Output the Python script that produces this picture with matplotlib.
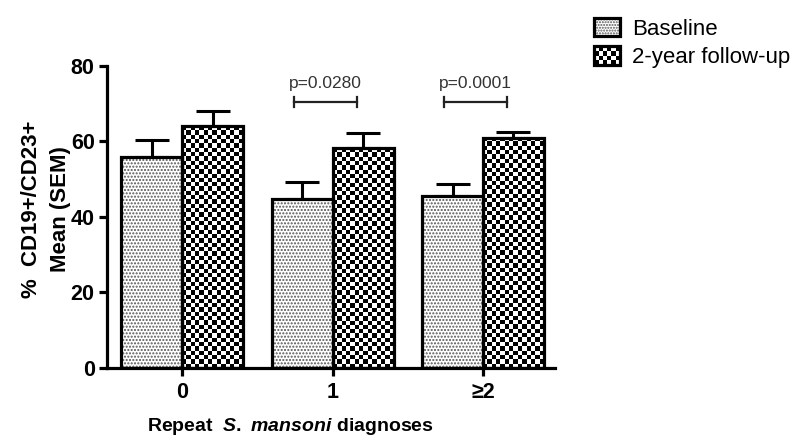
import numpy as np
from matplotlib import pyplot as plt
from matplotlib.patches import Rectangle
from matplotlib.legend_handler import HandlerBase

plt.rcParams['font.family'] = ['Liberation Sans', 'DejaVu Sans']
plt.rcParams['mathtext.fontset'] = 'custom'
plt.rcParams['mathtext.it'] = 'Liberation Sans:italic:bold'
plt.rcParams['mathtext.rm'] = 'Liberation Sans:bold'

# data
groups = ['0', '1', '\u22652']
baseline = [55.9, 44.8, 45.6]
baseline_sem = [4.5, 4.5, 3.1]
followup = [64.1, 58.2, 61.0]
followup_sem = [4.0, 4.1, 1.5]
pvalues = ['p=0.0280', 'p=0.0001']
p_groups = [1, 2]
p_height = 70.5

x = np.arange(len(groups))
w = 0.405
dotcol = '#555555'

fig = plt.figure(figsize=(8, 4.46), dpi=100)
ax = fig.add_axes([0.134, 0.175, 0.56, 0.677])

bars_b = ax.bar(x - w/2, baseline, w, color='white', edgecolor=dotcol,
                hatch='.....', linewidth=0, zorder=2)
bars_f = ax.bar(x + w/2, followup, w, color='white', linewidth=0, zorder=2)

# checkerboard fill for follow-up bars
cell = 4.35 / 150.5  # data units per checker cell in x
for b in bars_f:
    bx, by, bw, bh = b.get_x(), b.get_y(), b.get_width(), b.get_height()
    nx = int(round(bw / cell))
    ny = int(round(bh * 3.775 / 4.35))
    chk = (np.add.outer(np.arange(ny), np.arange(nx)) % 2).astype(float)
    im = ax.imshow(chk, cmap='gray', extent=[bx, bx + bw, by, by + bh],
                   interpolation='nearest', aspect='auto', zorder=2)
    im.set_clip_path(b)

# outlines
for b in list(bars_b) + list(bars_f):
    ax.add_patch(Rectangle((b.get_x(), b.get_y()), b.get_width(), b.get_height(),
                           fill=False, edgecolor='black', linewidth=2.3, zorder=3))

ax.errorbar(x - w/2, baseline, yerr=[np.zeros(3), baseline_sem], fmt='none',
            ecolor='black', elinewidth=2.2, capsize=12, capthick=2.2, zorder=1)
ax.errorbar(x + w/2, followup, yerr=[np.zeros(3), followup_sem], fmt='none',
            ecolor='black', elinewidth=2.2, capsize=12, capthick=2.2, zorder=1)

# significance brackets
for g, ptxt in zip(p_groups, pvalues):
    x0, x1 = g - 0.26, g + 0.16
    ax.plot([x0, x1], [p_height, p_height], color='#222222', lw=1.6, clip_on=False)
    ax.plot([x0, x0], [p_height - 1.4, p_height + 1.4], color='#222222', lw=1.6, clip_on=False)
    ax.plot([x1, x1], [p_height - 1.4, p_height + 1.4], color='#222222', lw=1.6, clip_on=False)
    ax.text((x0 + x1) / 2, p_height + 3.0, ptxt, ha='center', va='bottom',
            fontsize=12.5, color='#333333')

ax.set_xlim(-0.5, 2.48)
ax.set_ylim(0, 80)
ax.set_yticks([0, 20, 40, 60, 80])
ax.set_xticks(x)
ax.set_xticklabels(groups)
for s in ['top', 'right']:
    ax.spines[s].set_visible(False)
for s in ['left', 'bottom']:
    ax.spines[s].set_linewidth(2.3)
ax.tick_params(axis='both', width=2.3, length=6, labelsize=15.5, pad=3)
ax.tick_params(axis='x', pad=4)
for lab in ax.get_xticklabels() + ax.get_yticklabels():
    lab.set_fontweight('bold')

ax.set_ylabel('%  CD19+/CD23+\nMean (SEM)', fontsize=16, fontweight='bold',
              linespacing=1.5)
ax.yaxis.set_label_coords(-0.08, 0.526)
ax.set_xlabel('Repeat  $\\mathit{S.\\ mansoni}$ diagnoses', fontsize=14,
              fontweight='bold')
ax.xaxis.set_label_coords((290 - 107) / 448, -0.16)


class DotHandler(HandlerBase):
    def create_artists(self, legend, orig_handle, xd, yd, width, height, fontsize, trans):
        bg = Rectangle((-xd, -yd), width, height, facecolor='white', edgecolor=dotcol,
                       hatch='......', linewidth=0, transform=trans)
        border = Rectangle((-xd, -yd), width, height, fill=False, edgecolor='black',
                           linewidth=2.3, transform=trans)
        return [bg, border]


class CheckHandler(HandlerBase):
    def create_artists(self, legend, orig_handle, xd, yd, width, height, fontsize, trans):
        arts = [Rectangle((-xd, -yd), width, height, facecolor='white', linewidth=0,
                          transform=trans)]
        nx, ny = 6, 4
        cw, ch = width / nx, height / ny
        for i in range(nx):
            for j in range(ny):
                if (i + j) % 2 == 0:
                    arts.append(Rectangle((-xd + i * cw, -yd + j * ch), cw, ch,
                                          facecolor='black', linewidth=0, transform=trans))
        arts.append(Rectangle((-xd, -yd), width, height, fill=False, edgecolor='black',
                              linewidth=2.3, transform=trans))
        return arts


h1, h2 = object(), object()
fig.legend([h1, h2], ['Baseline', '2-year follow-up'],
           handler_map={h1: DotHandler(), h2: CheckHandler()},
           loc='upper left', bbox_to_anchor=(0.718, 1.005), frameon=False,
           fontsize=16, handlelength=1.15, handleheight=0.9, handletextpad=0.55,
           labelspacing=0.3)

fig.savefig('out.png', dpi=100)
